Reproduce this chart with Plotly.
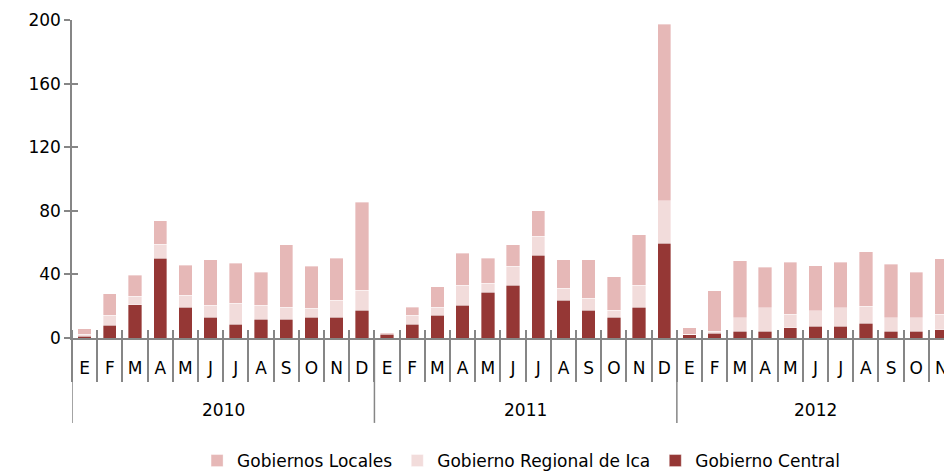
import plotly.graph_objects as go

year_names = ["2010", "2011", "2012"]
years = ["2010"] * 12 + ["2011"] * 12 + ["2012"] * 11
months_base = ["E", "F", "M", "A", "M", "J", "J", "A", "S", "O", "N", "D"]
months = months_base * 2 + months_base[:11]

central = [1.2, 8.0, 20.8, 50.3, 19.5, 13.2, 8.8, 11.9, 11.9, 13.2, 13.2, 17.4,
           2.3, 8.8, 14.3, 20.5, 28.9, 33.1, 52.2, 23.7, 17.4, 13.2, 19.5, 59.7,
           2.1, 3.1, 4.2, 4.2, 6.5, 7.3, 7.3, 9.4, 4.2, 4.2, 5.2]
regional = [1.3, 6.3, 5.4, 8.6, 7.5, 7.3, 13.0, 8.6, 7.6, 5.5, 10.5, 12.6,
            0.3, 5.5, 5.2, 12.6, 5.5, 12.0, 11.7, 7.5, 7.5, 4.2, 13.6, 26.7,
            0.2, 1.3, 8.6, 14.9, 8.4, 9.7, 11.8, 10.7, 8.6, 8.6, 9.7]
locales = [3.4, 13.6, 13.4, 14.7, 18.9, 28.8, 25.2, 21.0, 39.2, 26.4, 26.6, 55.3,
           0.8, 5.2, 12.8, 20.1, 15.7, 13.6, 16.0, 18.1, 24.4, 21.2, 31.9, 110.9,
           4.0, 25.2, 35.8, 25.3, 32.7, 28.5, 28.5, 34.0, 33.7, 28.5, 34.8]

y_ticks = [0, 40, 80, 120, 160, 200]

idx = list(range(len(months)))
FONT = "DejaVu Sans, sans-serif"
AX = "#868686"
line = dict(color="rgba(255,255,255,0.6)", width=0.6)

fig = go.Figure()
fig.add_trace(go.Bar(x=idx, y=central, name="Gobierno Central",
                     marker=dict(color="#953735", line=line)))
fig.add_trace(go.Bar(x=idx, y=regional, name="Gobierno Regional de Ica",
                     marker=dict(color="#F2DCDB", line=line)))
fig.add_trace(go.Bar(x=idx, y=locales, name="Gobiernos Locales",
                     marker=dict(color="#E6B8B7", line=line)))
# helper trace for the overlay axes (cross tick marks)
fig.add_trace(go.Scatter(x=[0], y=[None], xaxis="x2", yaxis="y2",
                         showlegend=False, hoverinfo="skip"))

boundaries = [i - 0.5 for i in range(len(months) + 1)]
xr = [-0.5, 34.1]

# year group dividers and labels
year_starts = [years.index(y) for y in year_names]
for y in year_names:
    members = [i for i, v in enumerate(years) if v == y]
    center = (members[0] + members[-1]) / 2
    fig.add_annotation(x=center, xref="x", y=-0.2264, yref="paper",
                       text=y, showarrow=False, yanchor="middle",
                       font=dict(family=FONT, size=17, color="#000000"))
for s in year_starts:
    fig.add_shape(type="line", xref="x", yref="paper",
                  x0=s - 0.5, x1=s - 0.5, y0=0, y1=-0.267,
                  line=dict(color=AX, width=1.5))

fig.update_layout(
    barmode="stack",
    bargap=0.47,
    width=944, height=471,
    margin=dict(l=72, r=0, t=20, b=133),
    paper_bgcolor="white", plot_bgcolor="white",
    font=dict(family=FONT, size=17, color="#000000"),
    showlegend=True,
    legend=dict(orientation="h", traceorder="reversed",
                x=0.515, xanchor="center", xref="paper",
                y=1 - 461 / 471, yanchor="middle", yref="container",
                font=dict(family=FONT, size=17), itemwidth=30),
    xaxis=dict(range=xr, tickmode="array", tickvals=idx, ticktext=months,
               ticks="", ticklabelstandoff=14, ticklabeloverflow="allow",
               showline=True, linecolor=AX, linewidth=1.5,
               minor=dict(tickmode="array", tickvals=boundaries,
                          ticks="outside", ticklen=42, tickcolor=AX,
                          tickwidth=1.5),
               tickfont=dict(family=FONT, size=17), showgrid=False,
               zeroline=False, automargin=False),
    xaxis2=dict(overlaying="x", range=xr, anchor="y2",
                tickmode="array", tickvals=[], showticklabels=False,
                minor=dict(tickmode="array", tickvals=boundaries,
                           ticks="inside", ticklen=8, tickcolor=AX,
                           tickwidth=1.5),
                showline=False, showgrid=False, zeroline=False,
                automargin=False),
    yaxis=dict(range=[0, 200], tickvals=y_ticks, showline=True,
               linecolor=AX, linewidth=1.5, ticks="outside",
               ticklen=6, tickcolor=AX, tickwidth=1.5,
               showgrid=False, zeroline=False, automargin=False,
               tickfont=dict(family=FONT, size=17)),
    yaxis2=dict(overlaying="y", range=[0, 200], anchor="x2", side="left",
                tickvals=y_ticks, ticks="inside", ticklen=6,
                tickcolor=AX, tickwidth=1.5, showticklabels=False,
                showline=False, showgrid=False, zeroline=False,
                automargin=False),
)

fig.write_html("out.html",
               config={"displayModeBar": False},
               post_script="document.body.style.margin='0px';"
                           "document.body.style.overflow='hidden';")
